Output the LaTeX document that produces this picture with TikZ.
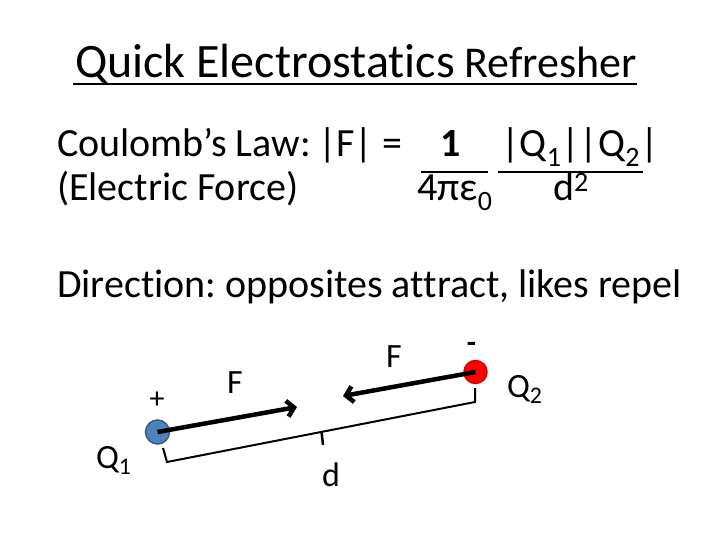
\documentclass[tikz,border=0pt]{standalone}
\usepackage{fontspec}
\setmainfont{Carlito}[Ligatures=NoCommon]
\usetikzlibrary{arrows.meta}
\definecolor{chargeblue}{HTML}{4F81BD}
\definecolor{chargeblueedge}{HTML}{385D8A}
\definecolor{chargered}{HTML}{FF0000}
\newcommand{\fsz}[1]{\fontsize{#1}{1.2\dimexpr #1pt\relax}\selectfont}
\frenchspacing
\begin{document}
\begin{tikzpicture}[
    x=1pt, y=-1pt,
    every node/.style={inner sep=0pt, outer sep=0pt, anchor=base west},
    slidetext/.style={font=\fsz{40}},
    smalltext/.style={font=\fsz{34}},
    fracbar/.style={line width=2.5pt},
    charge/.style={circle, minimum size=24pt, line width=1.5pt},
    force/.style={line width=4.5pt, -{Straight Barb[length=7pt, width=16pt]}},
    bracket/.style={line width=2pt, line join=miter}
]
\useasboundingbox (0,0) rectangle (720,540);
% title
\node[font=\fsz{48}] (title) at (75,78) {Quick Electrostatics};
\node[font=\fsz{44}, anchor=base east] (titleend) at (637,78) {Refresher};
\coordinate (ulleft) at (73,84);
\coordinate (ulright) at (637,84);
\draw[line width=2.5pt] (ulleft) -- (ulright);
% Coulomb's law
\node[slidetext] (law) at (57,157) {Coulomb’s Law:};
\node[slidetext] (lhs) at (318,157) {|F| =};
\node[slidetext, anchor=base] (num1) at (451,157) {\bfseries 1};
\node[slidetext, anchor=base] (num2) at (580,157) {|Q\textsubscript{1}||Q\textsubscript{2}|};
\node[slidetext] (lawname) at (57,201) {(Electric Force)};
\node[slidetext, anchor=base] (den1) at (455,201) {4πε\textsubscript{0}};
\node[slidetext, anchor=base] (den2) at (571,201) {d\textsuperscript{2}};
\coordinate (bar1l) at (421,172);
\coordinate (bar1r) at (488,172);
\coordinate (bar2l) at (498,172);
\coordinate (bar2r) at (643,172);
\draw[fracbar] (bar1l) -- (bar1r);
\draw[fracbar] (bar2l) -- (bar2r);
% direction
\node[slidetext] (rule) at (57,297) {Direction: opposites attract, likes repel};
% charges
\node[charge, fill=chargeblue, draw=chargeblueedge, anchor=center] (q1) at (157.5,432) {};
\node[charge, minimum size=23pt, fill=chargered, draw=chargered!85!black, anchor=center] (q2) at (475.5,372) {};
\node[font=\fsz{30}, anchor=center] (plus) at (157,400) {+};
\node[font=\fsz{30}\bfseries, anchor=center] (minus) at (471.5,347) {-};
\node[smalltext] (q1label) at (96,468) {Q\textsubscript{1}};
\node[smalltext] (q2label) at (507,397) {Q\textsubscript{2}};
% forces
\coordinate (f1tip) at (297,407);
\coordinate (f2tip) at (343,396);
\draw[force] (q1.center) -- (f1tip);
\draw[force] (q2.center) -- (f2tip);
\node[smalltext] (f1label) at (227,393) {F};
\node[smalltext] (f2label) at (386,367) {F};
% distance bracket
\coordinate (brlt) at (163,448);
\coordinate (brlc) at (167,462);
\coordinate (brm) at (321.5,431.5);
\coordinate (brmt) at (323,445);
\coordinate (brrc) at (475,402);
\coordinate (brrt) at (475,388);
\draw[bracket] (brlt) -- (brlc) -- (brrc) -- (brrt);
\draw[line width=2.5pt] (brm) -- (brmt);
\node[smalltext] (dlabel) at (322,486) {d};
\end{tikzpicture}
\end{document}
